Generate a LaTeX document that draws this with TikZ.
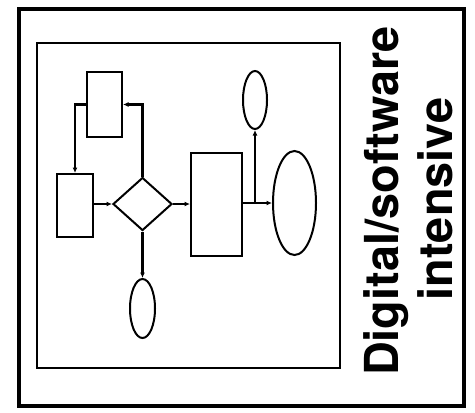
\documentclass[tikz,border=0pt]{standalone}
\usepackage{fontspec}
\newfontfamily\hfont{TeX Gyre Heros}
\usetikzlibrary{shapes.geometric,arrows.meta}
\begin{document}
\begin{tikzpicture}[x=1bp,y=-1bp,
  shp/.style={draw=black,line width=2bp,inner sep=0pt},
  boxn/.style={shp,rectangle},
  ell/.style={shp,ellipse},
  dia/.style={shp,diamond},
  arr/.style={line width=2.2bp,-{Latex[length=5.5bp,width=5bp]}},
  lbl/.style={font=\hfont\bfseries\fontsize{47}{50}\selectfont,rotate=90,anchor=base,inner sep=0pt}]
\useasboundingbox (0,0) rectangle (475,412);
\draw[line width=4bp] (19,9) rectangle (464,406);
\draw[line width=2.5bp] (37,43) rectangle (340,368);
\node[boxn,minimum width=35bp,minimum height=65bp] (top) at (104.5,104.5) {};
\node[boxn,minimum width=36bp,minimum height=63bp] (left) at (75,205.5) {};
\node[dia,minimum width=59bp,minimum height=53bp] (d) at (142.5,204) {};
\node[boxn,minimum width=51bp,minimum height=103bp] (mid) at (216.5,204.5) {};
\node[ell,minimum width=43bp,minimum height=104bp] (big) at (294.5,203) {};
\node[ell,minimum width=24bp,minimum height=58bp] (sm) at (255,100) {};
\node[ell,minimum width=25bp,minimum height=59bp] (bot) at (142.5,308.5) {};
\draw[arr] (left.east |- d.west) -- (d.west);
\draw[arr] (d.east) -- (mid.west |- d.east);
\draw[arr] (mid.east |- big.west) -- (big.west);
\draw[arr] (sm.south |- big.west) -- (sm.south);
\draw[arr] (d.south) -- (bot.north);
\draw[arr] (d.north) |- (top.east);
\draw[arr] (top.west) -| (left.north);
\node[lbl] (l1) at (398,201) {Digital/software};
\node[lbl] (l2) at (452,199) {intensive};
\end{tikzpicture}
\end{document}
